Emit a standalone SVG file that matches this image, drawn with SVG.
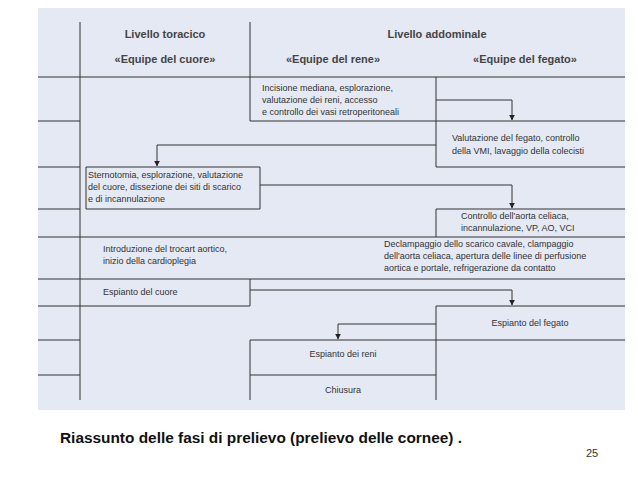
<svg xmlns="http://www.w3.org/2000/svg" width="638" height="479" viewBox="0 0 638 479">
<defs>
<style>
.l{stroke:#333;stroke-width:1;fill:none}
.t{font-family:"Liberation Sans",Arial,sans-serif;font-size:9px;fill:#333}
.h{font-family:"Liberation Sans",Arial,sans-serif;font-size:11px;font-weight:bold;fill:#444}
.c{font-family:"Liberation Sans",Arial,sans-serif;font-size:14px;font-weight:bold;fill:#111}
</style>
<marker id="a" viewBox="0 0 10 10" refX="9" refY="5" markerWidth="6" markerHeight="6" orient="auto"><path d="M0,0L10,5L0,10z" fill="#222"/></marker>
</defs>
<rect width="638" height="479" fill="#fff"/>
<rect x="38" y="8" width="587" height="402" fill="#e4e9f4"/>
<g id="grid" class="l">
<path d="M80,22V400M250,22V121M38,77H625M38,121H80M250,121H625M436,77V167M38,167H80M436,167H625M86,167H260V209H86zM38,209H80M436,209H625M436,209V237M38,237H625M38,279H625M250,279V306M38,306H250M436,306H625M436,306V400M38,340H80M250,340H625M250,340V400M38,375H80M250,375H436"/>
</g>
<g id="headers" text-anchor="middle">
<text class="h" x="165" y="38">Livello toracico</text>
<text class="h" x="437" y="38">Livello addominale</text>
<text class="h" x="165" y="63">«Equipe del cuore»</text>
<text class="h" x="333" y="63">«Equipe del rene»</text>
<text class="h" x="525" y="63">«Equipe del fegato»</text>
</g>
<g id="n1"><text class="t" x="262" y="91">Incisione mediana, esplorazione,</text><text class="t" x="262" y="103">valutazione dei reni, accesso</text><text class="t" x="262" y="115">e controllo dei vasi retroperitoneali</text></g>
<g id="n2"><text class="t" x="452" y="141">Valutazione del fegato, controllo</text><text class="t" x="452" y="154">della VMI, lavaggio della colecisti</text></g>
<g id="n3"><text class="t" x="88" y="178">Sternotomia, esplorazione, valutazione</text><text class="t" x="88" y="190">del cuore, dissezione dei siti di scarico</text><text class="t" x="88" y="202">e di incannulazione</text></g>
<g id="n4"><text class="t" x="461" y="219">Controllo dell'aorta celiaca,</text><text class="t" x="461" y="231">incannulazione, VP, AO, VCI</text></g>
<g id="n5"><text class="t" x="103" y="252">Introduzione del trocart aortico,</text><text class="t" x="103" y="264">inizio della cardioplegia</text></g>
<g id="n6"><text class="t" x="384" y="247">Declampaggio dello scarico cavale, clampaggio</text><text class="t" x="384" y="259">dell'aorta celiaca, apertura delle linee di perfusione</text><text class="t" x="384" y="271">aortica e portale, refrigerazione da contatto</text></g>
<g id="n7"><text class="t" x="103" y="295">Espianto del cuore</text></g>
<g id="n8"><text class="t" x="530" y="326" text-anchor="middle">Espianto del fegato</text></g>
<g id="n9"><text class="t" x="343" y="357" text-anchor="middle">Espianto dei reni</text></g>
<g id="n10"><text class="t" x="343" y="393" text-anchor="middle">Chiusura</text></g>
<g id="connectors" class="l" marker-end="url(#a)">
<path d="M436,100H512V120"/>
<path d="M436,145H157V166"/>
<path d="M260,185H512V208"/>
<path d="M250,290H512V305"/>
<path d="M436,324H338V339"/>
</g>
<text class="c" x="60" y="443" textLength="402" lengthAdjust="spacingAndGlyphs">Riassunto delle fasi di prelievo (prelievo delle cornee) .</text>
<text x="586" y="457" font-family="Liberation Sans,Arial,sans-serif" font-size="11" fill="#333">25</text>
</svg>
